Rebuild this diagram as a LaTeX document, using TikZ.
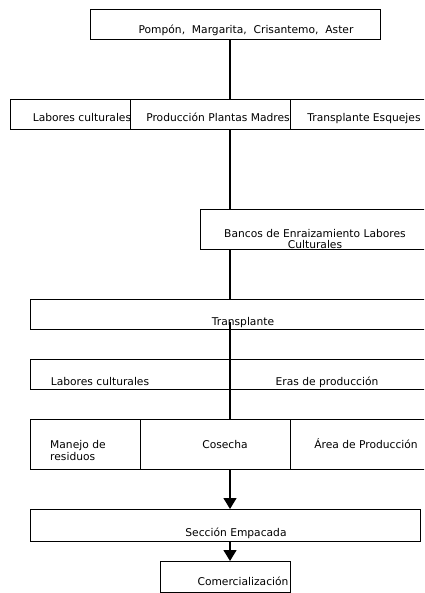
\documentclass[tikz,border=0pt]{standalone}
\usepackage{fontspec}
\newfontfamily\flowfont{DejaVu Sans}
\usetikzlibrary{arrows.meta}
\tikzset{
  caja/.style={draw, line width=1.4pt, inner sep=0pt, anchor=north west},
  rotulo/.style={font=\flowfont\fontsize{10.7}{12}\selectfont, inner sep=0pt, anchor=base},
  linea/.style={line width=1.4pt},
  flecha/.style={line width=1.4pt, -{Triangle[width=13pt,length=11pt]}}
}
\begin{document}
\begin{tikzpicture}[x=1pt,y=-1pt]
		%%%%% MARCO %%%%%
		\useasboundingbox (0,0) rectangle (424,593);
		\clip (0,0) rectangle (424,593);
		\coordinate (eje) at (230,0);
		
		%%%%% CAJAS %%%%%
		\node[caja, minimum width=290pt, minimum height=30pt] (especies) at (90,9) {};
		\node[rotulo] (especies-t) at (246,34) {Pompón,~ Margarita,~ Crisantemo,~ Aster};
		
		\node[caja, minimum width=120pt, minimum height=30pt] (labores) at (10,99) {};
		\node[rotulo] (labores-t) at (82,122) {Labores culturales};
		\node[caja, minimum width=160pt, minimum height=30pt] (plantas) at (130,99) {};
		\node[rotulo] (plantas-t) at (218,122) {Producción Plantas Madres};
		\node[caja, minimum width=140pt, minimum height=30pt] (esquejes) at (290,99) {};
		\node[rotulo] (esquejes-t) at (364,122) {Transplante Esquejes};
		
		\node[caja, minimum width=230pt, minimum height=40pt] (bancos) at (200,209) {};
		\node[rotulo, align=center, font=\flowfont\fontsize{10.7}{11}\selectfont] (bancos-t) at (315,248) {Bancos de Enraizamiento Labores\\Culturales};
		
		\node[caja, minimum width=400pt, minimum height=30pt] (transplante) at (30,299) {};
		\node[rotulo] (transplante-t) at (243,325) {Transplante};
		
		\node[caja, minimum width=200pt, minimum height=30pt] (cultivo) at (30,359) {};
		\node[rotulo] (cultivo-t) at (100,385) {Labores culturales};
		\node[caja, minimum width=200pt, minimum height=30pt] (eras) at (230,359) {};
		\node[rotulo] (eras-t) at (327,385) {Eras de producción};
		
		\node[caja, minimum width=110pt, minimum height=50pt] (residuos) at (30,419) {};
		\node[rotulo, anchor=base west, align=left] (residuos-t) at (50,460) {Manejo de\\residuos};
		\node[caja, minimum width=150pt, minimum height=50pt] (cosecha) at (140,419) {};
		\node[rotulo] (cosecha-t) at (225,448) {Cosecha};
		\node[caja, minimum width=140pt, minimum height=50pt] (area) at (290,419) {};
		\node[rotulo] (area-t) at (366,448) {Área de Producción};
		
		\node[caja, minimum width=390pt, minimum height=32pt] (seccion) at (30,509) {};
		\node[rotulo] (seccion-t) at (236,536) {Sección Empacada};
		
		\node[caja, minimum width=130pt, minimum height=31pt] (venta) at (160,561) {};
		\node[rotulo] (venta-t) at (243,585) {Comercialización};
		
		%%%%% LINEAS %%%%%
		\draw[linea] (especies.south -| eje) -- (plantas.north -| eje);
		\draw[linea] (plantas.south -| eje) -- (bancos.north -| eje);
		\draw[linea] (bancos.south -| eje) -- (transplante.north -| eje);
		\draw[linea] (transplante-t.center -| eje) -- (cosecha.north -| eje);
		\draw[flecha] (cosecha.south -| eje) -- (seccion.north -| eje);
		\draw[flecha] (seccion.south -| eje) -- (venta.north -| eje);
\end{tikzpicture}
\end{document}
